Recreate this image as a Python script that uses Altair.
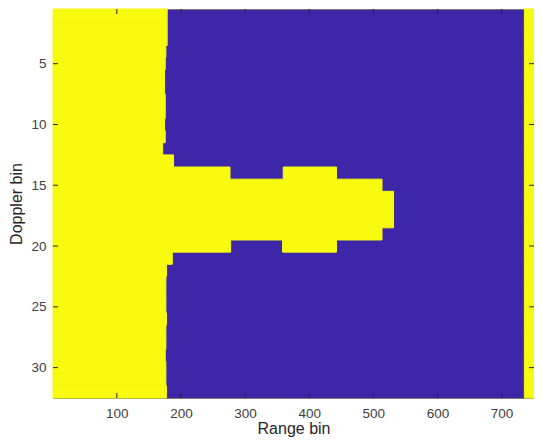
import altair as alt
import pandas as pd

# ---- data ----
doppler_bins = list(range(1, 33))
# last yellow range bin of the left (near-range) region in each Doppler row
left_end = [178, 178, 178, 176, 175, 174, 174, 175, 175, 174, 175, 171, 188,
            276, 513, 531, 531, 531, 513, 277,
            186, 177, 176, 176, 176, 177, 176, 176, 175, 176, 176, 177]
# detached yellow blocks
blob_rows = [14, 20]
blob_start = [360, 359]
blob_end = [442, 442]
# far-range yellow stripe
right_start = 736
n_range = 750
n_doppler = 32
x_ticks = [100, 200, 300, 400, 500, 600, 700]
y_ticks = [5, 10, 15, 20, 25, 30]

YELLOW = "#F9FB0E"
BLUE = "#3E26A8"

rows = []
for r, e in zip(doppler_bins, left_end):
    rows.append({"row": r, "s": 1, "e": e})
    rows.append({"row": r, "s": right_start, "e": n_range})
for r, s, e in zip(blob_rows, blob_start, blob_end):
    rows.append({"row": r, "s": s, "e": e})
seg = pd.DataFrame(rows)
seg["x0"] = seg["s"] - 0.5
seg["x1"] = seg["e"] + 0.5
seg["y0"] = seg["row"] - 0.5
seg["y1"] = seg["row"] + 0.5

xt = pd.DataFrame({"x0": x_ticks})
yt = pd.DataFrame({"y0": y_ticks})

W, H = 481, 389
FONT = "Liberation Sans"

xs = alt.Scale(domain=[0.5, n_range + 0.5], nice=False, zero=False)
ys = alt.Scale(domain=[0.5, n_doppler + 0.5], nice=False, zero=False, reverse=True)

xaxis = alt.Axis(values=x_ticks, title="Range bin", tickSize=0, domain=False, grid=False,
                 labelPadding=8, titleBaseline="alphabetic", titleY=35.5)
yaxis = alt.Axis(values=y_ticks, title="Doppler bin", tickSize=0, domain=False, grid=False,
                 labelPadding=7, titleBaseline="alphabetic", titleX=-32)

X = alt.X("x0:Q", scale=xs, axis=xaxis)
Y = alt.Y("y0:Q", scale=ys, axis=yaxis)

rects = alt.Chart(seg).mark_rect(color=YELLOW, stroke=YELLOW, strokeWidth=1).encode(
    x=X, x2="x1:Q", y=Y, y2="y1:Q"
)

tick_style = dict(color="#262626", strokeWidth=1)
xb = alt.Chart(xt).mark_rule(**tick_style).encode(x=X, y=alt.value(H), y2=alt.value(H - 5))
xtop = alt.Chart(xt).mark_rule(**tick_style).encode(x=X, y=alt.value(0), y2=alt.value(5))
yl = alt.Chart(yt).mark_rule(**tick_style).encode(y=Y, x=alt.value(0), x2=alt.value(5))
yr = alt.Chart(yt).mark_rule(**tick_style).encode(y=Y, x=alt.value(W - 5), x2=alt.value(W))

chart = alt.layer(rects, xb, xtop, yl, yr).properties(
    width=W, height=H,
    autosize=alt.AutoSizeParams(type="none"),
    padding={"left": 45, "top": 1, "right": 0, "bottom": 39},
).configure_view(
    fill=BLUE, stroke="#7a7a7a", strokeWidth=1
).configure_axis(
    labelFont=FONT, labelFontSize=13.5, labelColor="#404040",
    titleFont=FONT, titleFontSize=16, titleFontWeight="normal", titleColor="#262626",
)

chart.save("out.html", embed_options={"renderer": "svg", "actions": False})
